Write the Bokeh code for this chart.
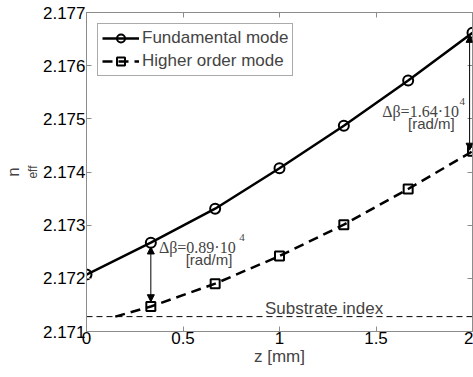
import math
from bokeh.plotting import figure
from bokeh.models import (Range1d, FixedTicker, LinearAxis, Label, Arrow, NormalHead, Legend)
from bokeh.embed import file_html
from bokeh.resources import INLINE

# ---- data ----
z_pts = [0, 1/3, 2/3, 1, 4/3, 5/3, 2]
n_fund = [2.17207, 2.17267, 2.17331, 2.17407, 2.17487, 2.17572, 2.17662]
z_high = [1/3, 2/3, 1, 4/3, 5/3, 2]
n_high = [2.17147, 2.17190, 2.17242, 2.17301, 2.17368, 2.17439]
z_high_start = 0.149          # where the dashed curve starts (on substrate line)
n_substrate = 2.17128

x_ticks = [0, 0.5, 1, 1.5, 2]
x_tick_labels = ["0", "0.5", "1", "1.5", "2"]
y_ticks = [2.171, 2.172, 2.173, 2.174, 2.175, 2.176, 2.177]
y_tick_labels = ["2.171", "2.172", "2.173", "2.174", "2.175", "2.176", "2.177"]

# annotation anchors (data units)
arrow_z = [1/3, 1.985]
arrow_top = [n_fund[1], n_fund[6]]
arrow_bot = [n_high[0], n_high[5]]
arrow_gap_top = [0.00008, 0.00005]
arrow_gap_bot = [0.00009, 0.00002]
db_text = ["\u0394\u03b2=0.89\u00b710", "\u0394\u03b2=1.64\u00b710"]
db_pos = [(0.375, 2.17258), (1.532, 2.17514)]
sup_pos = [(0.792, 2.17276), (1.932, 2.17533)]
unit_pos = [(0.514, 2.17236), (1.666, 2.17492)]
sub_text_pos = (0.925, 2.17144)

SANS = "Liberation Sans"
SERIF = "Liberation Serif"
GRAY = "#8c8c8c"

p = figure(width=473, height=377, output_backend="svg", toolbar_location=None,
           x_range=Range1d(0, 2), y_range=Range1d(2.171, 2.177),
           min_border_left=83, min_border_right=1, min_border_top=12, min_border_bottom=46)
p.background_fill_color = "white"
p.border_fill_color = "white"
p.outline_line_color = GRAY
p.grid.visible = False

def style_axis(ax, ticks, labels, show_labels=True):
    ax.ticker = FixedTicker(ticks=ticks)
    ax.axis_line_color = GRAY
    ax.major_tick_line_color = GRAY
    ax.major_tick_in = 5
    ax.major_tick_out = 0
    ax.minor_tick_line_color = None
    ax.major_label_text_font = SANS
    if show_labels:
        ax.major_label_overrides = {t: l for t, l in zip(ticks, labels)}
        ax.major_label_text_font_size = "17px"
        ax.major_label_text_color = "black"
    else:
        ax.major_label_overrides = {t: "" for t in ticks}
        ax.major_label_text_font_size = "1px"
        ax.major_label_text_color = None
        ax.major_label_standoff = 0

xa = p.xaxis[0]
ya = p.yaxis[0]
style_axis(xa, x_ticks, x_tick_labels)
style_axis(ya, y_ticks, y_tick_labels)
xa.major_label_standoff = 0
ya.major_label_standoff = 1
xa.axis_label = "z [mm]"
xa.axis_label_text_font = SANS
xa.axis_label_text_font_size = "17px"
xa.axis_label_text_font_style = "normal"
xa.axis_label_standoff = 0

# y label n_eff: subscript "eff" on the main axis, "n" on an outer axis
ya.axis_label = "eff"
ya.axis_label_text_font = SANS
ya.axis_label_text_font_size = "12px"
ya.axis_label_text_font_style = "normal"
ya.axis_label_orientation = "parallel"
ya.axis_label_standoff = 0

outer = LinearAxis(ticker=FixedTicker(ticks=[]), axis_line_color=None,
                   major_tick_line_color=None, minor_tick_line_color=None,
                   major_label_text_font_size="1px", major_label_text_color=None,
                   major_label_standoff=0, major_tick_in=0, major_tick_out=0,
                   axis_label="n", axis_label_text_font=SANS, axis_label_text_font_size="17px",
                   axis_label_text_font_style="normal",
                   axis_label_orientation="parallel", axis_label_standoff=0)
p.add_layout(outer, "left")

top_ax = LinearAxis()
style_axis(top_ax, x_ticks, x_tick_labels, show_labels=False)
p.add_layout(top_ax, "above")
right_ax = LinearAxis()
style_axis(right_ax, y_ticks, y_tick_labels, show_labels=False)
p.add_layout(right_ax, "right")

# substrate line
p.line([0, 2], [n_substrate, n_substrate], line_color="black", line_width=1, line_dash="6 4")

# curves
l1 = p.line(z_pts, n_fund, line_color="black", line_width=2.5)
s1 = p.scatter(z_pts, n_fund, marker="circle", size=10, line_color="black", line_width=2, fill_alpha=0)
l2 = p.line([z_high_start] + z_high, [n_substrate] + n_high, line_color="black", line_width=2.5, line_dash="10 6")
s2 = p.scatter(z_high, n_high, marker="square", size=9, line_color="black", line_width=2, fill_alpha=0)

legend = Legend(items=[("Fundamental mode", [l1, s1]), ("Higher order mode", [l2, s2])],
                location="top_left", margin=11, padding=4, spacing=3,
                label_text_font=SANS, label_text_font_size="17px",
                glyph_width=37, glyph_height=20, label_height=20, label_standoff=3,
                border_line_color="#555555", border_line_width=1,
                background_fill_color="white", background_fill_alpha=1)
p.add_layout(legend)

# arrows and labels
for i in range(2):
    p.add_layout(Arrow(x_start=arrow_z[i], y_start=arrow_top[i] - arrow_gap_top[i],
                       x_end=arrow_z[i], y_end=arrow_bot[i] + arrow_gap_bot[i],
                       line_width=1, line_color="black",
                       start=NormalHead(size=7, fill_color="black", line_color="black", line_width=1),
                       end=NormalHead(size=7, fill_color="black", line_color="black", line_width=1)))
    p.add_layout(Label(x=db_pos[i][0], y=db_pos[i][1], text=db_text[i], text_font=SERIF,
                       text_font_size="16px", text_align="left", text_baseline="alphabetic"))
    p.add_layout(Label(x=sup_pos[i][0], y=sup_pos[i][1], text="4", text_font=SERIF,
                       text_font_size="11px", text_align="left", text_baseline="alphabetic"))
    p.add_layout(Label(x=unit_pos[i][0], y=unit_pos[i][1], text="[rad/m]", text_font=SANS,
                       text_font_size="15px", text_align="left", text_baseline="alphabetic"))

p.add_layout(Label(x=sub_text_pos[0], y=sub_text_pos[1], text="Substrate index", text_font=SANS,
                   text_font_size="17px", text_align="left", text_baseline="alphabetic"))

open("out.html", "w").write(file_html(p, INLINE))
